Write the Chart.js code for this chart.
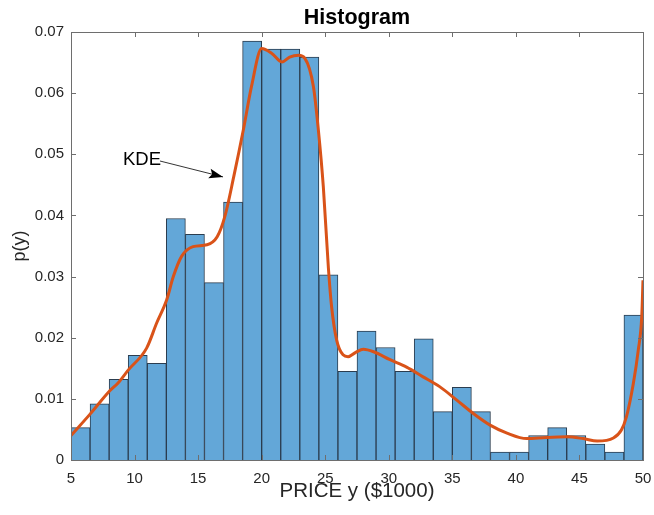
<!DOCTYPE html>
<html>
<head>
<meta charset="utf-8">
<script src="https://cdn.jsdelivr.net/npm/chart.js@4/dist/chart.umd.min.js"></script>
<style>
  html, body { margin: 0; padding: 0; background: #ffffff; }
  #wrap { width: 654px; height: 515px; }
</style>
</head>
<body>
<div id="wrap"><canvas id="c" width="654" height="515"></canvas></div>
<script>
// ---- data ----
const binCenters = [5.75, 7.25, 8.75, 10.25, 11.75, 13.25, 14.75, 16.25, 17.75, 19.25,
                    20.75, 22.25, 23.75, 25.25, 26.75, 28.25, 29.75, 31.25, 32.75, 34.25,
                    35.75, 37.25, 38.75, 40.25, 41.75, 43.25, 44.75, 46.25, 47.75, 49.25];
const binDensity = [0.0053, 0.0092, 0.0132, 0.0171, 0.0158, 0.0395, 0.0369, 0.0290, 0.0422, 0.0685,
                    0.0672, 0.0672, 0.0659, 0.0303, 0.0145, 0.0211, 0.0184, 0.0145, 0.0198, 0.0079,
                    0.0119, 0.0079, 0.0013, 0.0013, 0.0040, 0.0053, 0.0040, 0.0026, 0.0013, 0.0237];
const kdeX = [5.0, 6.5, 8.0, 8.7, 9.5, 10.95, 11.74, 12.53, 13.05, 13.7, 14.6, 15.7, 16.5, 17.1, 17.8,
              18.56, 19.2, 20.0, 20.8, 21.6, 22.2, 22.9, 23.4, 24.07, 24.46, 24.85, 25.25, 25.5, 25.9,
              26.4, 26.8, 27.4, 28.0, 28.8, 30.1, 31.4, 32.7, 34.0, 35.35, 36.65, 37.97, 39.3, 40.85,
              42.4, 44.0, 45.3, 46.4, 47.67, 48.3, 48.7, 49.24, 49.63, 49.9, 50.0];
const kdeY = [0.0040, 0.0075, 0.0112, 0.0126, 0.0147, 0.0183, 0.0224, 0.0262, 0.0300, 0.0333, 0.0349, 0.0352, 0.0365, 0.0398, 0.0463,
              0.0540, 0.0611, 0.0673, 0.0665, 0.0651, 0.0659, 0.0662, 0.0657, 0.0611, 0.0540, 0.0447, 0.0314, 0.0251, 0.0196,
              0.0172, 0.0169, 0.0176, 0.0181, 0.0177, 0.0164, 0.0152, 0.0136, 0.0120, 0.0098, 0.0076, 0.0057, 0.0044, 0.0035,
              0.0037, 0.0038, 0.0035, 0.0031, 0.0036, 0.0049, 0.0071, 0.0125, 0.0180, 0.0234, 0.0294];
const xTicks = [5, 10, 15, 20, 25, 30, 35, 40, 45, 50];
const yTicks = [0, 0.01, 0.02, 0.03, 0.04, 0.05, 0.06, 0.07];
const titleText = 'Histogram';
const xLabel = 'PRICE y ($1000)';
const yLabel = 'p(y)';
const annotText = 'KDE';

const FONT = "'Liberation Sans', Arial, Helvetica, sans-serif";

const framePlugin = {
  id: 'frame',
  afterDatasetsDraw(chart) {
    const {ctx, chartArea: a, scales: {x, y}} = chart;
    ctx.save();
    // annotation arrow (data coordinates)
    const tx = x.getPixelForValue(12.0), ty = y.getPixelForValue(0.0489);
    const hx = x.getPixelForValue(16.96), hy = y.getPixelForValue(0.0463);
    ctx.strokeStyle = '#000'; ctx.fillStyle = '#000'; ctx.lineWidth = 0.8;
    ctx.beginPath(); ctx.moveTo(tx, ty); ctx.lineTo(hx, hy); ctx.stroke();
    const ang = Math.atan2(hy - ty, hx - tx);
    const L = 14, W = 5;
    ctx.beginPath();
    ctx.moveTo(hx, hy);
    ctx.lineTo(hx - L*Math.cos(ang) + W*Math.sin(ang), hy - L*Math.sin(ang) - W*Math.cos(ang));
    ctx.lineTo(hx - L*0.8*Math.cos(ang), hy - L*0.8*Math.sin(ang));
    ctx.lineTo(hx - L*Math.cos(ang) - W*Math.sin(ang), hy - L*Math.sin(ang) + W*Math.cos(ang));
    ctx.closePath(); ctx.fill();
    ctx.font = '18.5px ' + FONT;
    ctx.textAlign = 'right'; ctx.textBaseline = 'middle';
    ctx.fillText(annotText, tx + 1, y.getPixelForValue(0.0491));

    // box
    ctx.strokeStyle = '#6e6e6e'; ctx.lineWidth = 1;
    ctx.strokeRect(Math.round(a.left) + 0.5, Math.round(a.top) + 0.5,
                   Math.round(a.right - a.left), Math.round(a.bottom - a.top));
    // inward ticks
    const tl = 5;
    ctx.beginPath();
    xTicks.forEach(v => {
      const px = Math.round(x.getPixelForValue(v)) + 0.5;
      ctx.moveTo(px, a.bottom); ctx.lineTo(px, a.bottom - tl);
      ctx.moveTo(px, a.top); ctx.lineTo(px, a.top + tl);
    });
    yTicks.forEach(v => {
      const py = Math.round(y.getPixelForValue(v)) + 0.5;
      ctx.moveTo(a.left, py); ctx.lineTo(a.left + tl, py);
      ctx.moveTo(a.right, py); ctx.lineTo(a.right - tl, py);
    });
    ctx.stroke();

    // title
    ctx.fillStyle = '#000';
    ctx.font = 'bold 21.5px ' + FONT;
    ctx.textAlign = 'center'; ctx.textBaseline = 'alphabetic';
    ctx.fillText(titleText, (a.left + a.right) / 2, 24);
    ctx.restore();
  }
};

new Chart(document.getElementById('c'), {
  type: 'bar',
  data: {
    datasets: [
      {
        type: 'line',
        label: 'KDE',
        data: kdeX.map((v, i) => ({x: v, y: kdeY[i]})),
        borderColor: '#d95319',
        borderWidth: 3,
        pointRadius: 0,
        tension: 0.4,
        cubicInterpolationMode: 'monotone',
        fill: false,
        order: 0
      },
      {
        type: 'bar',
        label: 'Histogram',
        data: binCenters.map((v, i) => ({x: v, y: binDensity[i]})),
        backgroundColor: '#63a7d8',
        borderColor: '#2b3d4f',
        borderWidth: 1,
        borderSkipped: 'start',
        barPercentage: 1.0,
        categoryPercentage: 1.0,
        grouped: false,
        order: 1
      }
    ]
  },
  options: {
    responsive: false,
    animation: false,
    devicePixelRatio: 1,
    layout: { padding: { top: 32, right: 11, left: 0, bottom: 0 } },
    plugins: { legend: { display: false }, tooltip: { enabled: false }, title: { display: false } },
    scales: {
      x: {
        type: 'linear',
        offset: false,
        min: 5, max: 50,
        afterBuildTicks: s => { s.ticks = xTicks.map(v => ({value: v})); },
        afterFit: s => { s.height = 55; s.paddingLeft = 0; s.paddingRight = 0; },
        grid: { display: false, drawTicks: false, offset: false },
        border: { display: false },
        ticks: { color: '#262626', font: { family: FONT, size: 15 }, padding: 10, maxRotation: 0,
                 callback: v => String(v) },
        title: { display: true, text: xLabel, color: '#262626', font: { family: FONT, size: 20.5 },
                 padding: { top: 0, bottom: 11 } }
      },
      y: {
        type: 'linear',
        min: 0, max: 0.07,
        afterBuildTicks: s => { s.ticks = yTicks.map(v => ({value: v})); },
        afterFit: s => { s.width = 71; s.paddingTop = 0; s.paddingBottom = 0; },
        grid: { display: false, drawTicks: false },
        border: { display: false },
        ticks: { color: '#262626', font: { family: FONT, size: 15 }, padding: 7,
                 callback: v => (v === 0 ? '0' : v.toFixed(2)) },
        title: { display: true, text: yLabel, color: '#262626', font: { family: FONT, size: 18 },
                 padding: { top: 9, bottom: 0 } }
      }
    }
  },
  plugins: [framePlugin]
});
</script>
</body>
</html>
